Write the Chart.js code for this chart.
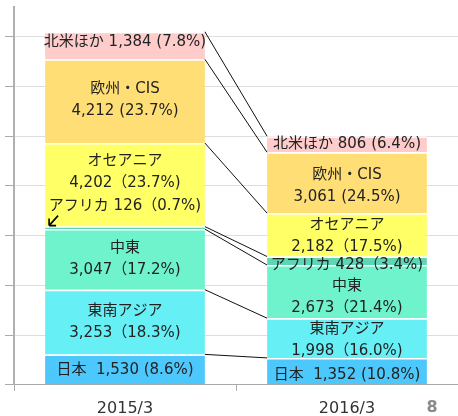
<!DOCTYPE html>
<html>
<head>
<meta charset="utf-8">
<script src="https://cdn.jsdelivr.net/npm/chart.js@4"></script>
<style>
  html, body { margin: 0; padding: 0; background: #fff; }
  #wrap { width: 458px; height: 416px; }
</style>
</head>
<body>
<div id="wrap"><canvas id="graph1"></canvas></div>
<script>
// data
var years = ['2015/3', '2016/3'];
var regions = ['日本', '東南アジア', '中東', 'アフリカ', 'オセアニア', '欧州・CIS', '北米ほか'];
var japan = [1530, 1352];
var seAsia = [3253, 1998];
var middleEast = [3047, 2673];
var africa = [126, 428];
var oceania = [4202, 2182];
var europeCis = [4212, 3061];
var northAmerica = [1384, 806];
var yTicks = [0, 2500, 5000, 7500, 10000, 12500, 15000, 17500];

var colors = ['#4cc8fc', '#66f0f6', '#6ef3cc', '#5ed6b5', '#ffff66', '#ffdf75', '#ffcccc'];
var series = [japan, seAsia, middleEast, africa, oceania, europeCis, northAmerica];

var totals = years.map(function (y, i) {
  return series.reduce(function (s, arr) { return s + arr[i]; }, 0);
});

function fmt(n) { return n.toLocaleString('en-US'); }
function pct(v, i) { return (v / totals[i] * 100).toFixed(1) + '%'; }

// how each label is laid out: lines and a small vertical nudge per bar
function labelLines(ds, i) {
  var v = series[ds][i], name = regions[ds];
  if (ds === 0) return [name + '  ' + fmt(v) + ' (' + pct(v, i) + ')'];
  if (ds === 6) return [name + ' ' + fmt(v) + ' (' + pct(v, i) + ')'];
  if (ds === 3) return [name + ' ' + fmt(v) + '（' + pct(v, i) + ')'];
  if (ds === 5) return [name, fmt(v) + ' (' + pct(v, i) + ')'];
  return [name, fmt(v) + '（' + pct(v, i) + ')'];
}
var nudge = [
  [1, 4], [0, 2], [0, 5], [-22, 4], [-13, 1], [-1, 3], [-3, 0]
];

var segLabels = {
  id: 'segLabels',
  afterDatasetsDraw: function (chart) {
    var ctx = chart.ctx;
    ctx.save();
    // connecting lines between segment tops
    ctx.strokeStyle = '#111';
    ctx.lineWidth = 1;
    for (var d = 0; d < series.length; d++) {
      var m = chart.getDatasetMeta(d).data;
      ctx.beginPath();
      ctx.moveTo(m[0].x + m[0].width / 2, m[0].y);
      ctx.lineTo(m[1].x - m[1].width / 2, m[1].y);
      ctx.stroke();
    }
    ctx.font = '15px "DejaVu Sans", "Noto Sans CJK JP", sans-serif';
    ctx.fillStyle = '#222';
    ctx.textAlign = 'center';
    ctx.textBaseline = 'middle';
    for (var d2 = 0; d2 < series.length; d2++) {
      var meta = chart.getDatasetMeta(d2).data;
      for (var i = 0; i < years.length; i++) {
        var bar = meta[i];
        var lines = labelLines(d2, i);
        var cy = (bar.y + bar.base) / 2 + nudge[d2][i];
        var lh = 22;
        var y0 = cy - (lines.length - 1) * lh / 2;
        lines.forEach(function (t, k) { ctx.fillText(t, bar.x, y0 + k * lh); });
      }
    }
    // small arrow to the thin africa slice on the first bar
    var a = chart.getDatasetMeta(3).data[0];
    var ax = a.x - a.width / 2 + 3, ay = a.y;
    ctx.strokeStyle = '#000';
    ctx.lineWidth = 1.6;
    ctx.beginPath();
    ctx.moveTo(ax + 10, ay - 11);
    ctx.lineTo(ax + 1, ay - 1);
    ctx.moveTo(ax + 1, ay - 1);
    ctx.lineTo(ax + 1, ay - 8);
    ctx.moveTo(ax + 1, ay - 1);
    ctx.lineTo(ax + 8, ay - 1);
    ctx.stroke();
    // page number
    ctx.font = 'bold 16px "DejaVu Sans", sans-serif';
    ctx.fillStyle = '#8a8a8a';
    ctx.fillText('8', 432, 408);
    ctx.restore();
  }
};

var datasets = series.map(function (arr, d) {
  return {
    label: regions[d],
    data: arr,
    backgroundColor: colors[d],
    borderColor: '#ffffff',
    borderWidth: { top: 1.5, bottom: 0, left: 0, right: 0 },
    borderSkipped: false,
    barPercentage: 0.72,
    categoryPercentage: 1.0
  };
});

new Chart(document.getElementById('graph1').getContext('2d'), {
  type: 'bar',
  data: { labels: years, datasets: datasets },
  options: {
    responsive: true,
    maintainAspectRatio: false,
    animation: false,
    layout: { padding: { top: 7, left: 5, right: 0, bottom: -10 } },
    plugins: { legend: { display: false }, tooltip: { enabled: false } },
    scales: {
      x: {
        stacked: true,
        grid: { display: true, drawOnChartArea: false, offset: true, tickLength: 6, color: '#aaa' },
        border: { color: '#aaa', width: 1 },
        ticks: { color: '#333', padding: 8, font: { size: 16, family: '"DejaVu Sans", sans-serif' } }
      },
      y: {
        stacked: true,
        min: 0,
        max: 19000,
        afterBuildTicks: function (scale) {
          scale.ticks = yTicks.map(function (v) { return { value: v }; });
        },
        grid: { color: '#dedede', tickColor: '#aaa', tickLength: 9 },
        border: { color: '#b0b0b0', width: 2 },
        ticks: { display: false }
      }
    }
  },
  plugins: [segLabels]
});
</script>
</body>
</html>
